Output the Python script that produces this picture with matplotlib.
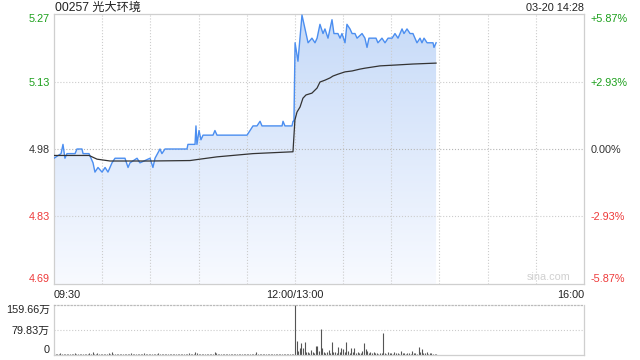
import numpy as np
import matplotlib
matplotlib.use('Agg')
import matplotlib.pyplot as plt
from matplotlib.colors import to_rgba

plt.rcParams['font.family'] = ['Liberation Sans', 'Noto Sans CJK SC', 'DejaVu Sans']

title = '00257 光大环境'
stamp = '03-20 14:28'
prev_close = 4.98
pct_levels = [5.87, 2.93, 0.00, -2.93, -5.87]
price_labels = ['5.27', '5.13', '4.98', '4.83', '4.69']
pct_labels = ['+5.87%', '+2.93%', '0.00%', '-2.93%', '-5.87%']
label_colors = ['#1a9f1a', '#1a9f1a', '#333333', '#ee3a3a', '#ee3a3a']
x_tick_pos = [0, 150, 330]
x_tick_labels = ['09:30', '12:00/13:00', '16:00']
vol_max = 159.66
vol_labels = ['159.66万', '79.83万', '0']

# minutes of trading time since 09:30 (lunch break removed)
price_t = [0, 4.4, 5.6, 6.8, 8.1, 13.1, 14.3, 17.4, 18.1, 21.8, 24.3, 25.5, 27.4, 29.9,
           31.8, 33.6, 36.1, 38.0, 41.1, 44.2, 46.1, 47.3, 51.7, 53.5, 59.8, 61.6, 62.9,
           66.0, 67.2, 69.1, 82.8, 83.4, 87.8, 88.4, 89.0, 90.3, 91.5, 92.8, 99.0, 100.2,
           101.5, 120.2, 123.9, 126.4, 128.3, 129.5, 142.0, 142.6, 143.8, 148.2, 148.8, 149.4,
           150.1, 151.9, 154.4, 156.3, 158.2, 160.6, 162.5, 163.8, 165.6, 167.5, 168.7, 170.6,
           173.1, 174.3, 176.8, 178.1, 179.3, 181.2, 182.4, 184.3, 185.6, 187.4, 188.7, 191.8,
           193.6, 194.9, 196.1, 198.0, 200.5, 201.7, 204.2, 206.1, 208.0, 210.5, 212.3, 214.2,
           216.7, 217.9, 219.8, 221.7, 223.5, 226.0, 227.9, 229.1, 230.4, 232.3, 234.1, 236.0,
           236.6, 237.9]
price_v = [4.96, 4.97, 4.99, 4.96, 4.97, 4.97, 4.98, 4.98, 4.97, 4.97, 4.95, 4.93, 4.94, 4.93,
           4.94, 4.93, 4.95, 4.96, 4.96, 4.96, 4.94, 4.95, 4.96, 4.95, 4.96, 4.94, 4.96,
           4.98, 4.97, 4.98, 4.98, 4.99, 4.99, 5.03, 4.99, 5.02, 5.00, 5.01, 5.01, 5.02,
           5.01, 5.01, 5.03, 5.03, 5.04, 5.03, 5.03, 5.04, 5.03, 5.03, 5.04, 5.04,
           5.21, 5.17, 5.27, 5.24, 5.21, 5.22, 5.21, 5.22, 5.25, 5.23, 5.24, 5.22,
           5.26, 5.23, 5.23, 5.22, 5.23, 5.21, 5.25, 5.24, 5.23, 5.23, 5.22, 5.23,
           5.22, 5.20, 5.22, 5.22, 5.22, 5.21, 5.22, 5.21, 5.22, 5.22, 5.23, 5.22,
           5.24, 5.23, 5.24, 5.23, 5.23, 5.21, 5.22, 5.21, 5.22, 5.21, 5.21, 5.21,
           5.20, 5.21]

avg_t = [0, 21.8, 26.8, 34.9, 59.8, 84.7, 90.9, 101.5, 123.9, 148.8, 150.0, 151.3, 153.2,
         155.0, 156.9, 160.6, 163.8, 165.6, 168.7, 171.9, 173.7, 176.8, 181.2, 185.6, 190.5,
         193.6, 203.0, 213.6, 223.5, 237.9]
avg_v = [4.966, 4.966, 4.958, 4.954, 4.954, 4.955, 4.958, 4.963, 4.970, 4.974, 5.043, 5.060,
         5.071, 5.090, 5.097, 5.101, 5.112, 5.125, 5.129, 5.134, 5.138, 5.142, 5.147, 5.149,
         5.153, 5.155, 5.160, 5.162, 5.164, 5.166]

# volume per minute (万), from 09:30
vol_v = [6, 3, 4, 2, 5, 3, 4, 3, 2, 4, 3, 2, 3, 5, 3,
         2, 4, 3, 2, 3, 4, 2, 5, 3, 11, 4, 3, 6, 2, 3,
         4, 3, 2, 3, 5, 2, 9, 3, 4, 2, 3, 4, 3, 2, 3,
         2, 4, 3, 5, 2, 3, 2, 4, 3, 2, 3, 5, 2, 3, 4,
         3, 2, 4, 3, 2, 6, 3, 2, 3, 4, 2, 3, 2, 4, 3,
         2, 3, 4, 2, 3, 2, 4, 3, 2, 5, 3, 4, 2, 10, 6,
         4, 3, 2, 3, 4, 2, 3, 2, 4, 3, 8, 5, 3, 2, 3,
         2, 3, 4, 2, 3, 2, 3, 2, 4, 3, 2, 3, 2, 3, 4,
         2, 3, 2, 4, 3, 2, 9, 3, 2, 3, 2, 3, 4, 2, 3,
         2, 3, 2, 3, 2, 4, 3, 2, 3, 2, 3, 2, 4, 3, 2,
         159.66, 45, 12, 22, 38, 22, 42, 8, 10, 6, 16, 8, 6, 29, 29,
         13, 82, 22, 8, 6, 10, 16, 6, 42, 8, 10, 6, 26, 8, 22,
         19, 8, 42, 14, 6, 22, 8, 22, 6, 8, 6, 5, 14, 39, 19,
         12, 6, 8, 5, 10, 6, 5, 4, 6, 5, 71, 6, 4, 8, 5,
         6, 4, 8, 5, 6, 4, 14, 5, 6, 4, 7, 5, 4, 13, 6,
         5, 4, 26, 8, 19, 6, 5, 8, 4, 6, 5, 4, 3, 3]

FS = 7.8
fig = plt.figure(figsize=(6.4, 3.6), dpi=100)
ax = fig.add_axes([54/640, 1-284/360, 530/640, 270/360])
vax = fig.add_axes([54/640, 1-355/360, 530/640, 50/360])

levels = [prev_close * (1 + p/100) for p in pct_levels]
ymin, ymax = min(levels), max(levels)
spine_c = '#cfcfcf'
grid_c = '#cccccc'

# gradient fill under price line
poly = ax.fill_between(price_t, price_v, ymin, facecolor='none', edgecolor='none')
top_c = np.array(to_rgba('#c6daf8'))
bot_c = np.array(to_rgba('#f8faff'))
frac = np.linspace(0, 1, 256)[:, None]
grad = (top_c[None, :] * (1 - frac) + bot_c[None, :] * frac)[:, None, :]
im = ax.imshow(grad, extent=[0, 330, ymin, ymax], aspect='auto', origin='upper', zorder=1)
im.set_clip_path(poly.get_paths()[0], transform=ax.transData)

ax.plot(price_t, price_v, color='#4b8ef0', lw=1.0, zorder=3)
ax.plot(avg_t, avg_v, color='#333333', lw=0.9, zorder=4)

ax.set_xlim(0, 330)
ax.set_ylim(ymin, ymax)

for lv in levels[1:-1]:
    ax.axhline(lv, color='#b5b5b5' if lv == prev_close else grid_c, ls=':', lw=0.8, zorder=2)
for xm in range(30, 330, 30):
    ax.axvline(xm, color=grid_c, ls=':', lw=0.8, zorder=2)

for s in ax.spines.values():
    s.set_color(spine_c)
    s.set_linewidth(0.9)

ax.set_yticks(levels)
ax.set_yticklabels(price_labels)
ax.tick_params(axis='y', length=0, pad=3, labelsize=FS)
for lab, c in zip(ax.get_yticklabels(), label_colors):
    lab.set_color(c)
ax.get_yticklabels()[0].set_va('top')
ax.get_yticklabels()[-1].set_va('bottom')

ax.set_xticks(x_tick_pos)
ax.set_xticklabels(x_tick_labels)
ax.tick_params(axis='x', length=0, pad=4, labelsize=FS, colors='#222222')
xl = ax.get_xticklabels()
xl[0].set_ha('left')
xl[-1].set_ha('right')

tw = ax.twinx()
tw.set_ylim(ymin, ymax)
tw.set_yticks(levels)
tw.set_yticklabels(pct_labels)
tw.tick_params(axis='y', length=0, pad=5, labelsize=FS)
for lab, c in zip(tw.get_yticklabels(), label_colors):
    lab.set_color(c)
tw.get_yticklabels()[0].set_va('top')
tw.get_yticklabels()[-1].set_va('bottom')
for s in tw.spines.values():
    s.set_visible(False)

ax.text(0.975, 0.026, 'sina.com', transform=ax.transAxes, ha='right', va='center',
        color='#d0d0d0', fontsize=FS, zorder=5)

fig.text(55/640, 1-8/360, title, ha='left', va='center', fontsize=8.7, color='#222222')
fig.text(584/640, 1-8/360, stamp, ha='right', va='center', fontsize=FS, color='#222222')

# volume
vmin_t = np.arange(len(vol_v))
vax.vlines(vmin_t, 0, vol_v, color='#555555', lw=0.8)
vax.set_xlim(0, 330)
vax.set_ylim(0, vol_max)
vax.set_xticks([])
vax.set_yticks([vol_max, vol_max/2, 0])
vax.set_yticklabels(vol_labels)
vax.tick_params(axis='y', length=0, pad=3, labelsize=FS, colors='#222222')
vax.get_yticklabels()[0].set_va('top')
vax.get_yticklabels()[-1].set_va('bottom')
vax.axhline(vol_max/2, color=grid_c, ls=':', lw=0.8)
for s in vax.spines.values():
    s.set_color(spine_c)
    s.set_linewidth(0.9)
vax.spines['top'].set_linestyle(':')
vax.spines['top'].set_color('#bbbbbb')

fig.savefig('out.png', dpi=100)
